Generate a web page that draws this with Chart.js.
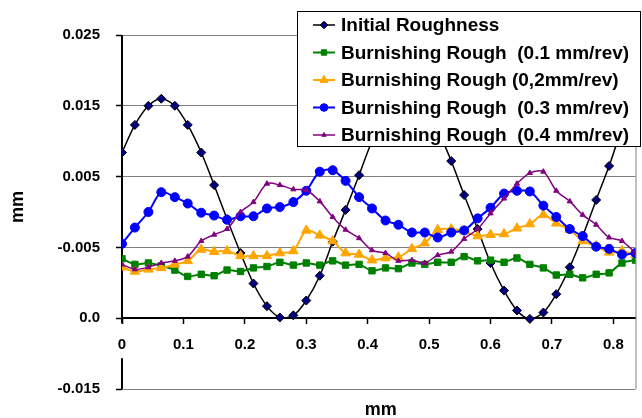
<!DOCTYPE html>
<html>
<head>
<meta charset="utf-8">
<title>Roughness profile</title>
<script src="https://cdn.jsdelivr.net/npm/chart.js@4.4.1/dist/chart.umd.min.js"></script>
<style>
  html, body { margin: 0; padding: 0; background: #fff; }
</style>
</head>
<body>
<canvas id="roughChart" width="642" height="418"></canvas>
<script>
// ── Data ──────────────────────────────────────────────
const positions = [0, 0.021, 0.043, 0.064, 0.086, 0.107, 0.129, 0.150, 0.171, 0.193,
  0.214, 0.236, 0.257, 0.279, 0.300, 0.322, 0.343, 0.364, 0.386, 0.407,
  0.429, 0.450, 0.472, 0.493, 0.514, 0.536, 0.557, 0.579, 0.600, 0.622,
  0.643, 0.664, 0.686, 0.707, 0.729, 0.750, 0.772, 0.793, 0.814, 0.836];

const initialRoughness = [0.0084, 0.0123, 0.0150, 0.0160, 0.0150, 0.0123, 0.0084, 0.0038, -0.0010, -0.0058,
  -0.0101, -0.0133, -0.0149, -0.0146, -0.0125, -0.0090, -0.0042, 0.0003, 0.0052, 0.0100,
  0.0134, 0.0154, 0.0158, 0.0147, 0.0116, 0.0072, 0.0024, -0.0024, -0.0072, -0.0111,
  -0.0139, -0.0151, -0.0142, -0.0116, -0.0078, -0.0034, 0.0017, 0.0065, 0.0116, 0.0147];

const burnish01 = [-0.0066, -0.0074, -0.0072, -0.0076, -0.0082, -0.0091, -0.0088, -0.0090, -0.0082, -0.0084,
  -0.0079, -0.0077, -0.0071, -0.0075, -0.0072, -0.0075, -0.0069, -0.0075, -0.0074, -0.0083,
  -0.0079, -0.0080, -0.0072, -0.0074, -0.0071, -0.0071, -0.0063, -0.0069, -0.0068, -0.0071,
  -0.0065, -0.0074, -0.0079, -0.0089, -0.0088, -0.0093, -0.0088, -0.0086, -0.0072, -0.0068];

const burnish02 = [-0.0078, -0.0084, -0.0081, -0.0079, -0.0074, -0.0069, -0.0053, -0.0056, -0.0055, -0.0062,
  -0.0062, -0.0062, -0.0058, -0.0055, -0.0026, -0.0033, -0.0041, -0.0058, -0.0060, -0.0068,
  -0.0065, -0.0064, -0.0052, -0.0044, -0.0025, -0.0024, -0.0027, -0.0034, -0.0032, -0.0031,
  -0.0023, -0.0017, -0.0004, -0.0016, -0.0025, -0.0041, -0.0048, -0.0057, -0.0055, -0.0060];

const burnish03 = [-0.0045, -0.0022, 0.0000, 0.0028, 0.0021, 0.0012, -0.0001, -0.0005, -0.0011, -0.0006,
  -0.0006, 0.0005, 0.0007, 0.0014, 0.0030, 0.0057, 0.0059, 0.0044, 0.0021, 0.0005,
  -0.0012, -0.0018, -0.0029, -0.0029, -0.0036, -0.0029, -0.0026, -0.0009, 0.0006, 0.0026,
  0.0030, 0.0029, 0.0009, -0.0007, -0.0024, -0.0034, -0.0049, -0.0052, -0.0060, -0.0058];

const burnish04 = [-0.0074, -0.0081, -0.0078, -0.0072, -0.0069, -0.0063, -0.0041, -0.0032, -0.0024, 0.0000,
  0.0014, 0.0040, 0.0038, 0.0032, 0.0031, 0.0015, -0.0007, -0.0025, -0.0037, -0.0054,
  -0.0058, -0.0069, -0.0068, -0.0072, -0.0061, -0.0056, -0.0038, -0.0024, -0.0002, 0.0019,
  0.0040, 0.0055, 0.0057, 0.0030, 0.0015, -0.0004, -0.0018, -0.0036, -0.0041, -0.0058];

const seriesLabels = [
  'Initial Roughness',
  'Burnishing Rough  (0.1 mm/rev)',
  'Burnishing Rough (0,2mm/rev)',
  'Burnishing Rough  (0.3 mm/rev)',
  'Burnishing Rough  (0.4 mm/rev)'
];

// gridline values (bottom → top) and the labels printed next to them
const yTickValues = [-0.025, -0.015, -0.005, 0.005, 0.015, 0.025];
const yTickLabels = ['-0.015', '0.0', '-0.005', '0.005', '0.015', '0.025'];
const xTickValues = [0, 0.1, 0.2, 0.3, 0.4, 0.5, 0.6, 0.7, 0.8];
const xTickLabels = ['0', '0.1', '0.2', '0.3', '0.4', '0.5', '0.6', '0.7', '0.8'];

const FONT = "'Liberation Sans', Arial, sans-serif";

const toPoints = arr => arr.map((v, i) => ({ x: positions[i], y: v }));

function makeSet(label, values, color, width, style, radius, fill, order) {
    return {
        label,
        data: toPoints(values),
        borderColor: color,
        borderWidth: width,
        pointStyle: style,
        pointRadius: radius,
        pointBackgroundColor: fill,
        pointBorderColor: style === 'rectRot' ? '#000' : color,
        pointBorderWidth: 1,
        tension: 0.3,
        order
    };
}

// ── Overlay: y axis line with gap, right border, titles, legend ──
const overlayPlugin = {
    id: 'overlay',
    beforeDatasetsDraw(chart) {
        const { ctx, chartArea: a } = chart;
        const axisY = chart.scales.y.getPixelForValue(yTickValues[1]);
        ctx.save();
        ctx.strokeStyle = '#808080';
        ctx.lineWidth = 1;
        ctx.beginPath();
        ctx.moveTo(a.right + 0.5, a.top);
        ctx.lineTo(a.right + 0.5, a.bottom);
        ctx.stroke();

        ctx.strokeStyle = '#000';
        ctx.lineWidth = 2;
        ctx.beginPath();
        ctx.moveTo(a.left, a.top);
        ctx.lineTo(a.left, axisY + 5);
        ctx.moveTo(a.left, axisY + 40);
        ctx.lineTo(a.left, a.bottom);
        ctx.stroke();
        ctx.restore();
    },
    afterDraw(chart) {
        const { ctx, chartArea: a } = chart;
        ctx.save();
        ctx.fillStyle = '#000';
        ctx.font = 'bold 18px ' + FONT;
        ctx.textAlign = 'center';
        ctx.textBaseline = 'middle';
        ctx.fillText('mm', (a.left + a.right) / 2 + 2, a.bottom + 21);
        ctx.save();
        ctx.translate(18, (a.top + a.bottom) / 2 - 5);
        ctx.rotate(-Math.PI / 2);
        ctx.fillText('mm', 0, 0);
        ctx.restore();

        // legend box over the top right of the plot
        const lx = 297.5, ly = 11.5, lw = 343, lh = 135;
        ctx.fillStyle = '#fff';
        ctx.fillRect(lx, ly, lw, lh);
        ctx.strokeStyle = '#000';
        ctx.lineWidth = 1;
        ctx.strokeRect(lx, ly, lw, lh);

        ctx.font = 'bold 19px ' + FONT;
        ctx.textAlign = 'left';
        chart.data.datasets.forEach((ds, i) => {
            const cy = 25 + i * 27.5;
            ctx.strokeStyle = ds.borderColor;
            ctx.lineWidth = ds.borderWidth;
            ctx.beginPath();
            ctx.moveTo(313, cy);
            ctx.lineTo(335, cy);
            ctx.stroke();
            ctx.fillStyle = ds.pointBackgroundColor;
            ctx.strokeStyle = ds.pointBorderColor;
            ctx.lineWidth = 1;
            Chart.helpers.drawPoint(ctx, {
                pointStyle: ds.pointStyle,
                radius: ds.pointRadius * 0.85,
                rotation: 0,
                borderWidth: 1
            }, 324, cy);
            ctx.fillStyle = '#000';
            ctx.fillText(ds.label, 341, cy + 1);
        });
        ctx.restore();
    }
};

new Chart(document.getElementById('roughChart'), {
    type: 'line',
    data: {
        datasets: [
            makeSet(seriesLabels[0], initialRoughness, '#000000', 1.5, 'rectRot', 4.5, '#000080', 5),
            makeSet(seriesLabels[1], burnish01, '#008000', 2, 'rect', 4.5, '#008000', 4),
            makeSet(seriesLabels[2], burnish02, '#FFA500', 2, 'triangle', 5.5, '#FFA500', 3),
            makeSet(seriesLabels[3], burnish03, '#0000FF', 2, 'circle', 4.5, '#0000FF', 2),
            makeSet(seriesLabels[4], burnish04, '#800080', 1.5, 'triangle', 3, '#800080', 1)
        ]
    },
    options: {
        responsive: false,
        animation: false,
        layout: { padding: { left: 0, top: 35, right: 5, bottom: 29 } },
        plugins: {
            legend: { display: false },
            tooltip: { enabled: false },
            title: { display: false }
        },
        scales: {
            x: {
                type: 'linear',
                position: { y: yTickValues[1] },
                min: 0,
                max: positions[positions.length - 1],
                afterBuildTicks: s => { s.ticks = xTickValues.map(v => ({ value: v })); },
                ticks: {
                    callback: v => xTickLabels[xTickValues.indexOf(v)],
                    font: { family: FONT, size: 15, weight: 'bold' },
                    color: '#000',
                    padding: 13,
                    maxRotation: 0,
                    autoSkip: false
                },
                grid: { display: true, drawOnChartArea: false, drawTicks: true, tickLength: 5, color: '#000', tickColor: '#000', tickWidth: 1.5 },
                border: { display: true, color: '#000', width: 2 }
            },
            y: {
                type: 'linear',
                min: yTickValues[0],
                max: yTickValues[yTickValues.length - 1],
                afterBuildTicks: s => { s.ticks = yTickValues.map(v => ({ value: v })); },
                afterFit: s => { s.width = 122; },
                ticks: {
                    callback: v => yTickLabels[yTickValues.indexOf(v)],
                    font: { family: FONT, size: 15, weight: 'bold' },
                    color: '#000',
                    padding: 16
                },
                grid: { color: '#808080', lineWidth: 1, tickColor: '#000', tickLength: 6, tickWidth: 1.5 },
                border: { display: false }
            }
        }
    },
    plugins: [overlayPlugin]
});
</script>
</body>
</html>
